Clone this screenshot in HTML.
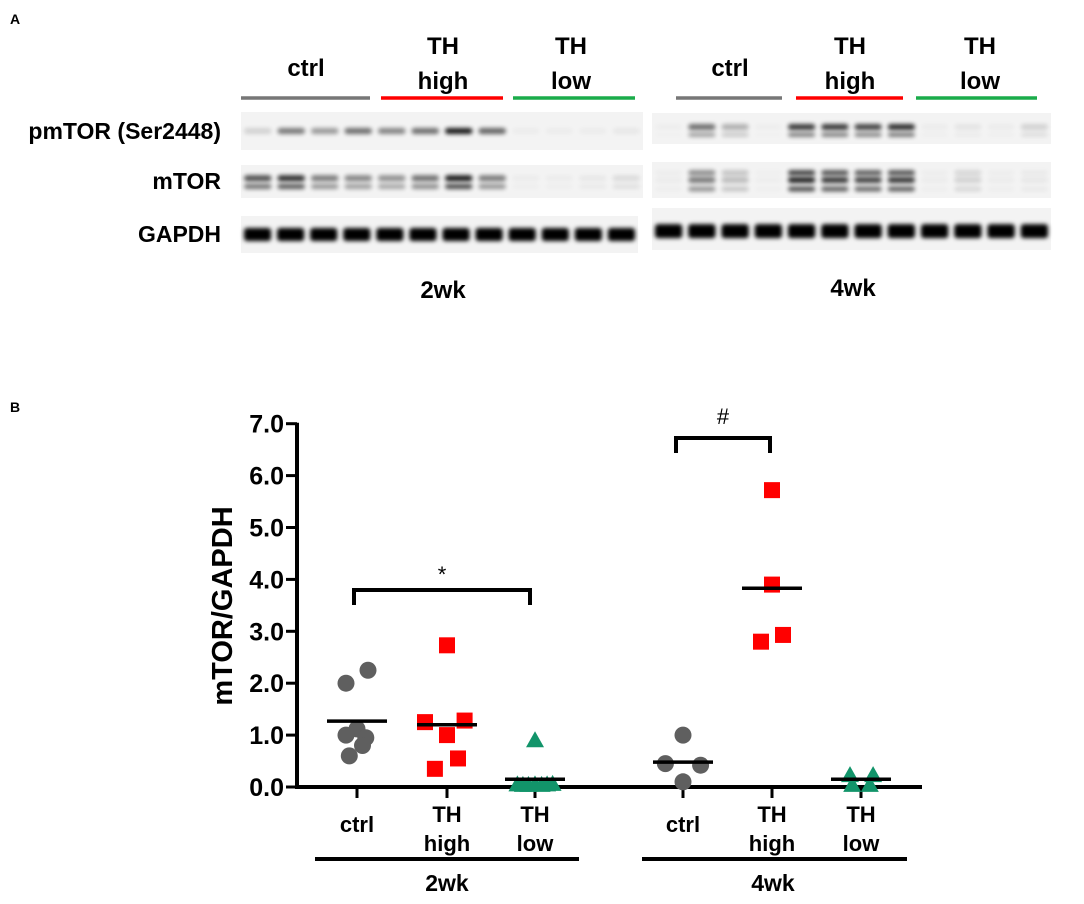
<!DOCTYPE html>
<html><head><meta charset="utf-8"><style>
body{margin:0;background:#fff;}
svg text{font-family:"Liberation Sans",sans-serif;}
</style></head><body>
<svg width="1084" height="899" viewBox="0 0 1084 899" xmlns="http://www.w3.org/2000/svg">
<defs>
<filter id="bl" x="-50%" y="-100%" width="200%" height="300%"><feGaussianBlur stdDeviation="2.2"/></filter>
</defs>
<text x="10" y="24" font-size="14" font-weight="bold">A</text>
<text x="10" y="412" font-size="14" font-weight="bold">B</text>
<g id="blots"></g>
<g id="chart"></g>
</svg>
<script>
// ---------- Chart data ----------
const groups = ["2wk ctrl","2wk TH high","2wk TH low","4wk ctrl","4wk TH high","4wk TH low"];
const ctrl2 = [2.0, 2.25, 1.12, 1.0, 0.95, 0.8, 0.6];
const high2 = [2.73, 1.25, 1.28, 1.0, 0.55, 0.35];
const low2 = [0.9, 0.05, 0.04, 0.04, 0.05, 0.04, 0.05, 0.06];
const ctrl4 = [1.0, 0.45, 0.42, 0.1];
const high4 = [5.72, 3.9, 2.93, 2.8];
const low4 = [0.23, 0.23, 0.04, 0.04];
const means = [1.27, 1.2, 0.15, 0.48, 3.83, 0.15];
const yTicks = ["0.0","1.0","2.0","3.0","4.0","5.0","6.0","7.0"];
// horizontal jitter in units of marker slot (not positions)
const jit = [[-1,1,0,-1,0.8,0.5,-0.7],[0,-2,1.6,0,1,-1.1],[0,-1.6,-1.1,-0.6,0,0.6,1.1,1.6],[0,-1.6,1.6,0],[0,0,1,-1],[-1,1.1,-0.8,0.8]];
const series = [ctrl2, high2, low2, ctrl4, high4, low4];
const shapes = ["circle","square","triangle","circle","square","triangle"];

const NS="http://www.w3.org/2000/svg";
function el(tag, attrs, parent){const e=document.createElementNS(NS,tag);for(const k in attrs)e.setAttribute(k,attrs[k]);parent.appendChild(e);return e;}
const chart=document.getElementById('chart');
const y0=787, unit=51.9;
function yS(v){return y0 - v*unit;}
const xCenters=[357,447,535,683,772,861];
function xS(i){return xCenters[i];}

// y axis
let ax=el('line',{x1:297,y1:yS(7)-1,x2:297,y2:y0+2,stroke:'#000','stroke-width':4},chart);


yTicks.forEach((t,i)=>{
  const v=parseFloat(t);
  const tk=el('line',{x1:286,y1:yS(v),x2:297,y2:yS(v),stroke:'#000','stroke-width':3},chart);
  
  
  const tx=el('text',{x:284,y:yS(v)+9,'text-anchor':'end','font-size':25,'font-weight':'bold'},chart);
  tx.textContent=t;
  
  
});
const yt=el('text',{x:0,y:0,transform:'translate(232,606) rotate(-90)','text-anchor':'middle','font-size':29,'font-weight':'bold'},chart);
yt.textContent='mTOR/GAPDH';


// x axis
const xa=el('line',{x1:295,y1:y0,x2:922,y2:y0,stroke:'#000','stroke-width':4},chart);


const xlab=[["ctrl"],["TH","high"],["TH","low"],["ctrl"],["TH","high"],["TH","low"]];
groups.forEach((g,i)=>{
  const tk=el('line',{x1:xS(i),y1:y0,x2:xS(i),y2:y0+11,stroke:'#000','stroke-width':3},chart);
  
  
  const lines=xlab[i];
  lines.forEach((s,j)=>{
    const yy = lines.length==1 ? 832 : 822+j*29;
    const t=el('text',{x:xS(i),y:yy,'text-anchor':'middle','font-size':22,'font-weight':'bold'},chart);
    t.textContent=s;
    
    
  });
});
// group lines
[[315,579,'2wk',447],[642,907,'4wk',773]].forEach(a=>{
  const l=el('line',{x1:a[0],y1:859,x2:a[1],y2:859,stroke:'#000','stroke-width':4},chart);
  
  
  const t=el('text',{x:a[3],y:891,'text-anchor':'middle','font-size':23,'font-weight':'bold'},chart);
  t.textContent=a[2];
  
  
});
// points
const colors={circle:'#5f5f5f',square:'#ff0000',triangle:'#12946a'};
series.forEach((arr,i)=>{
  arr.forEach((v,j)=>{
    const cx=xS(i)+jit[i][j]*11, cy=yS(v);
    const sh=shapes[i]; let m;
    if(sh==='circle') m=el('circle',{cx:cx,cy:cy,r:8.5,fill:colors.circle},chart);
    else if(sh==='square') m=el('rect',{x:cx-8,y:cy-8,width:16,height:16,fill:colors.square},chart);
    else m=el('polygon',{points:`${cx},${cy-9} ${cx-9},${cy+7} ${cx+9},${cy+7}`,fill:colors.triangle},chart);
    
    
  });
  const ml=el('line',{x1:xS(i)-30,y1:yS(means[i]),x2:xS(i)+30,y2:yS(means[i]),stroke:'#000','stroke-width':3.5},chart);
  
  
});
// significance brackets
[[354,530,590,605,'*',578],[676,770,438,453,'#',424]].forEach(b=>{
  const p=el('path',{d:`M${b[0]} ${b[3]} V${b[2]} H${b[1]} V${b[3]}`,fill:'none',stroke:'#000','stroke-width':4},chart);
  
  
  const t=el('text',{x:(b[0]+b[1])/2,y:b[5]+(b[4]==='*'?4:0),'text-anchor':'middle','font-size':22},chart);
  t.textContent=b[4];
  
  
});

// ---------- Blots ----------
const blots=document.getElementById('blots');
function txt(s,x,y,size,anchor,name){const t=el('text',{x:x,y:y,'font-size':size,'text-anchor':anchor,'font-weight':'bold'},blots);t.textContent=s;return t;}
txt('pmTOR (Ser2448)',221,139,23,'end','row-label-pmtor');
txt('mTOR',221,189,23,'end','row-label-mtor');
txt('GAPDH',221,242,23,'end','row-label-gapdh');
// headers
function hdr(cx,lines,name){lines.forEach((s,j)=>txt(s,cx,lines.length==1?76:54+j*35,24,'middle',name));}
hdr(306,['ctrl'],'header-ctrl-2wk');hdr(443,['TH','high'],'header-th-high-2wk');hdr(571,['TH','low'],'header-th-low-2wk');
hdr(730,['ctrl'],'header-ctrl-4wk');hdr(850,['TH','high'],'header-th-high-4wk');hdr(980,['TH','low'],'header-th-low-4wk');
[[241,370,'#777'],[381,503,'#f00'],[513,635,'#1aac4a'],[676,782,'#777'],[796,903,'#f00'],[916,1037,'#1aac4a']].forEach(c=>{
  const l=el('line',{x1:c[0],y1:98,x2:c[1],y2:98,stroke:c[2],'stroke-width':3.5},blots);
  
  
});
txt('2wk',443,298,24,'middle','blot-label-2wk');
txt('4wk',853,296,24,'middle','blot-label-4wk');
// panels
const pmA=[0.15,0.55,0.4,0.6,0.5,0.6,1,0.65,0.03,0.03,0.03,0.05];
const mA=[0.75,0.9,0.55,0.5,0.45,0.6,1,0.55,0.03,0.03,0.05,0.1];
const pmB=[0.02,0.6,0.3,0.02,0.85,0.85,0.8,0.9,0.03,0.06,0.03,0.15];
const mB=[0.03,0.55,0.25,0.02,0.95,0.85,0.8,0.85,0.03,0.15,0.03,0.05];
function panel(x0,x1,y,h,amps,bands,name){
  const g=el('g',{},blots);
  el('rect',{x:x0,y:y,width:x1-x0,height:h,fill:'#f3f3f3'},g);
  const w=(x1-x0)/amps.length;
  amps.forEach((a,i)=>{bands.forEach(b=>{
    el('rect',{x:x0+i*w+3,y:y+h*b[0]-b[1]/2,width:w-6,height:b[1],rx:3,fill:'#000',opacity:Math.min(1,a*b[2]),filter:'url(#bl)'},g);
  });});
}
panel(241,643,112,38,pmA,[[0.5,6,0.9]],'blot-pmtor-2wk');
panel(241,643,165,33,mA,[[0.4,6,0.9],[0.65,5,0.7]],'blot-mtor-2wk');
panel(241,638,216,37,Array(12).fill(1),[[0.5,13,1]],'blot-gapdh-2wk');
panel(652,1051,113,31,pmB,[[0.45,6,0.9],[0.7,4,0.6]],'blot-pmtor-4wk');
panel(652,1051,162,36,mB,[[0.3,5,0.8],[0.5,6,0.9],[0.75,5,0.7]],'blot-mtor-4wk');
panel(652,1051,208,42,Array(12).fill(1),[[0.55,14,1]],'blot-gapdh-4wk');
</script>
</body></html>
